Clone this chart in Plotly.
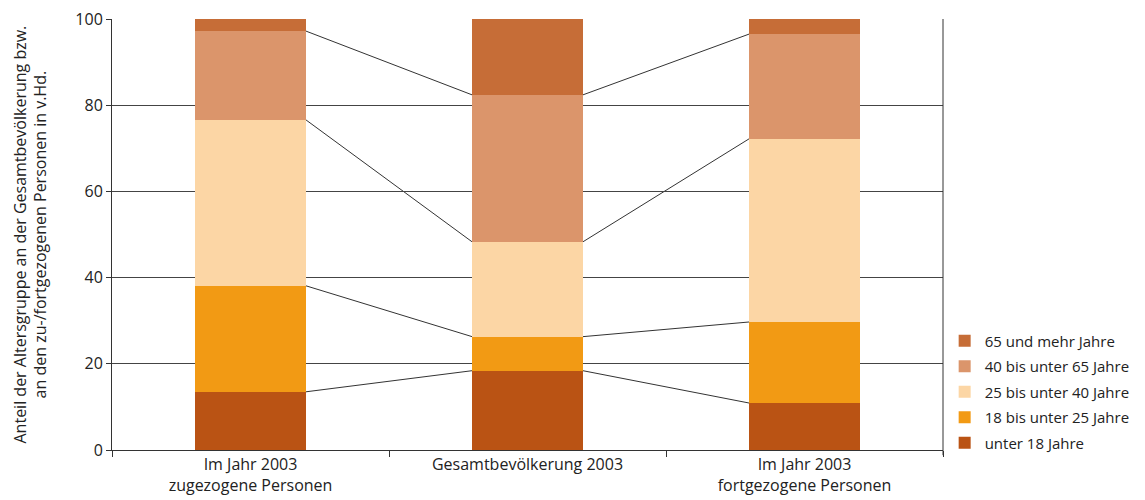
import plotly.graph_objects as go

categories = ["Im Jahr 2003<br>zugezogene Personen", "Gesamtbevölkerung 2003", "Im Jahr 2003<br>fortgezogene Personen"]
series_names = ["unter 18 Jahre", "18 bis unter 25 Jahre", "25 bis unter 40 Jahre", "40 bis unter 65 Jahre", "65 und mehr Jahre"]
unter18 = [13.5, 18.4, 10.9]
j18_25 = [24.6, 7.9, 18.8]
j25_40 = [38.5, 22.0, 42.5]
j40_65 = [20.6, 34.1, 24.3]
j65plus = [2.8, 17.6, 3.5]
colors = ["#BA5314", "#F29A14", "#FCD6A5", "#DB956B", "#C66D37"]
y_title = "Anteil der Altersgruppe an der Gesamtbevölkerung bzw.<br>an den zu-/fortgezogenen Personen in v.Hd."

series = [unter18, j18_25, j25_40, j40_65, j65plus]
bar_width = 0.4

fig = go.Figure()
for k, (name, vals, col) in enumerate(zip(series_names, series, colors)):
    fig.add_trace(go.Bar(x=categories, y=vals, name=name, legendgroup=name, legendrank=1000 - k,
                         marker=dict(color=col, line=dict(width=0)), width=bar_width))

# connecting lines between cumulative boundaries
cum = []
running = [0, 0, 0]
for vals in series[:-1]:
    running = [r + v for r, v in zip(running, vals)]
    cum.append(list(running))
for level in cum:
    for i in range(len(categories) - 1):
        fig.add_shape(type="line", xref="x", yref="y",
                      x0=i + bar_width / 2, x1=i + 1 - bar_width / 2,
                      y0=level[i], y1=level[i + 1],
                      line=dict(color="#333333", width=1), layer="below")

fig.update_layout(
    barmode="stack",
    width=1137, height=492,
    margin=dict(l=104, r=202, t=11, b=50, autoexpand=False),
    plot_bgcolor="white", paper_bgcolor="white",
    font=dict(family="Open Sans", size=15, color="#222222"),
    bargap=0.6,
    legend=dict(traceorder="grouped", x=1.002, xanchor="left", y=-0.022, yanchor="bottom",
                font=dict(size=15), itemwidth=30, tracegroupgap=3),
    xaxis=dict(type="category", tickson="boundaries", ticks="outside", ticklen=6,
               tickcolor="#333333", showline=True, linecolor="#333333", linewidth=1,
               mirror=False, showgrid=False, tickfont=dict(size=16), automargin=False),
    yaxis=dict(range=[0, 100], dtick=20, ticks="outside", ticklen=5, tickcolor="#333333",
               showline=True, linecolor="#333333", linewidth=1, showgrid=True,
               gridcolor="#444444", gridwidth=1, tickfont=dict(size=16), automargin=False,
               ticklabeloverflow="allow"),
)
fig.add_annotation(text=y_title, xref="paper", yref="paper", x=0, y=0.5,
                   xanchor="center", yanchor="middle", xshift=-82, textangle=-90,
                   showarrow=False, font=dict(size=16))
# right border line
fig.add_shape(type="line", xref="paper", yref="paper", x0=1, x1=1, y0=-0.012, y1=1,
              line=dict(color="#333333", width=1))

fig.write_html("out.html")
